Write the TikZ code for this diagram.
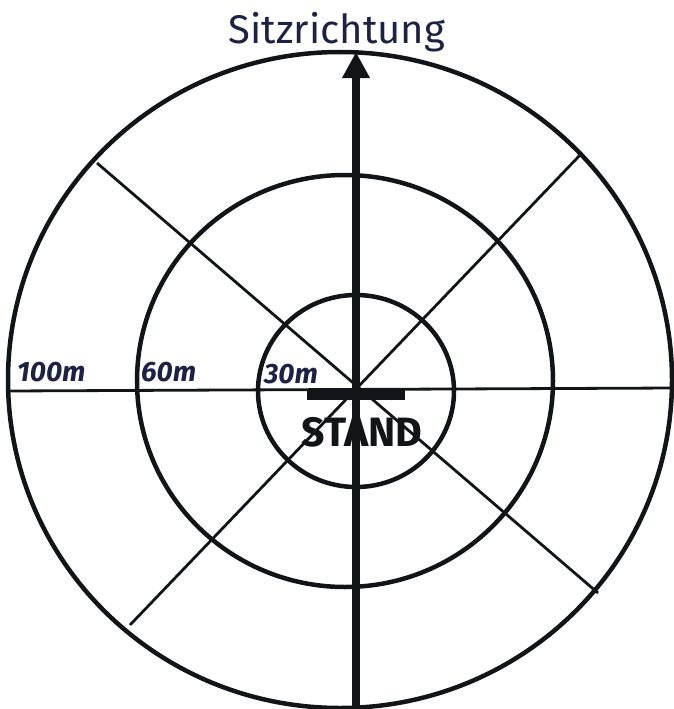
\documentclass[tikz,border=0pt]{standalone}
\usepackage{fontspec}
\setmainfont{Fira Sans}
\usetikzlibrary{arrows.meta}
\definecolor{ink}{HTML}{111517}
\definecolor{pen}{HTML}{1D2244}
\begin{document}
\begin{tikzpicture}[x=1pt,y=-1pt,
  ring/.style={draw=ink,line width=4.5pt},
  ray/.style={draw=ink,line width=2.8pt},
  axis/.style={draw=ink,line width=7.5pt,-{Triangle[width=26pt,length=26pt]}},
  lbl/.style={text=pen,font=\fontsize{28}{30}\selectfont\bfseries\itshape,inner sep=0pt},
  title/.style={text=pen,font=\fontsize{40}{44}\selectfont,inner sep=0pt},
  standtxt/.style={text=ink,font=\fontsize{41}{44}\selectfont\bfseries,inner sep=0pt}]
\useasboundingbox (0,0) rectangle (674,709);
\coordinate (C) at (356,389);
\coordinate (ul) at (97,163);
\coordinate (lr) at (598,593);
\coordinate (ur) at (582,153);
\coordinate (ll) at (130,625);
\coordinate (hl) at (8,391);
\coordinate (hr) at (674,388);
\coordinate (vb) at (356,712);
\coordinate (vt) at (356,52);
\begin{scope}
\clip (0,0) rectangle (674,709);
\draw[ring] (340,380) ellipse [x radius=332pt, y radius=328pt];
\draw[ring] (345,381) ellipse [x radius=208pt, y radius=206pt];
\draw[ring] (356,391) ellipse [x radius=98pt, y radius=96pt];
\draw[ray] (ul) -- (lr);
\draw[ray] (ur) -- (ll);
\draw[ray] (hl) -- (hr);
\fill[ink] (307,389) rectangle (405,400);
\draw[axis] (vb) -- (vt);
\end{scope}
\node[title,anchor=base] (t) at (337,44) {Sitzrichtung};
\node[lbl,anchor=base west] (l100) at (17,381) {100m};
\node[lbl,anchor=base west] (l60) at (141,381) {60m};
\node[lbl,anchor=base west] (l30) at (264,383) {30m};
\node[standtxt,anchor=base] (s) at (362,446) {STAND};
\end{tikzpicture}
\end{document}
